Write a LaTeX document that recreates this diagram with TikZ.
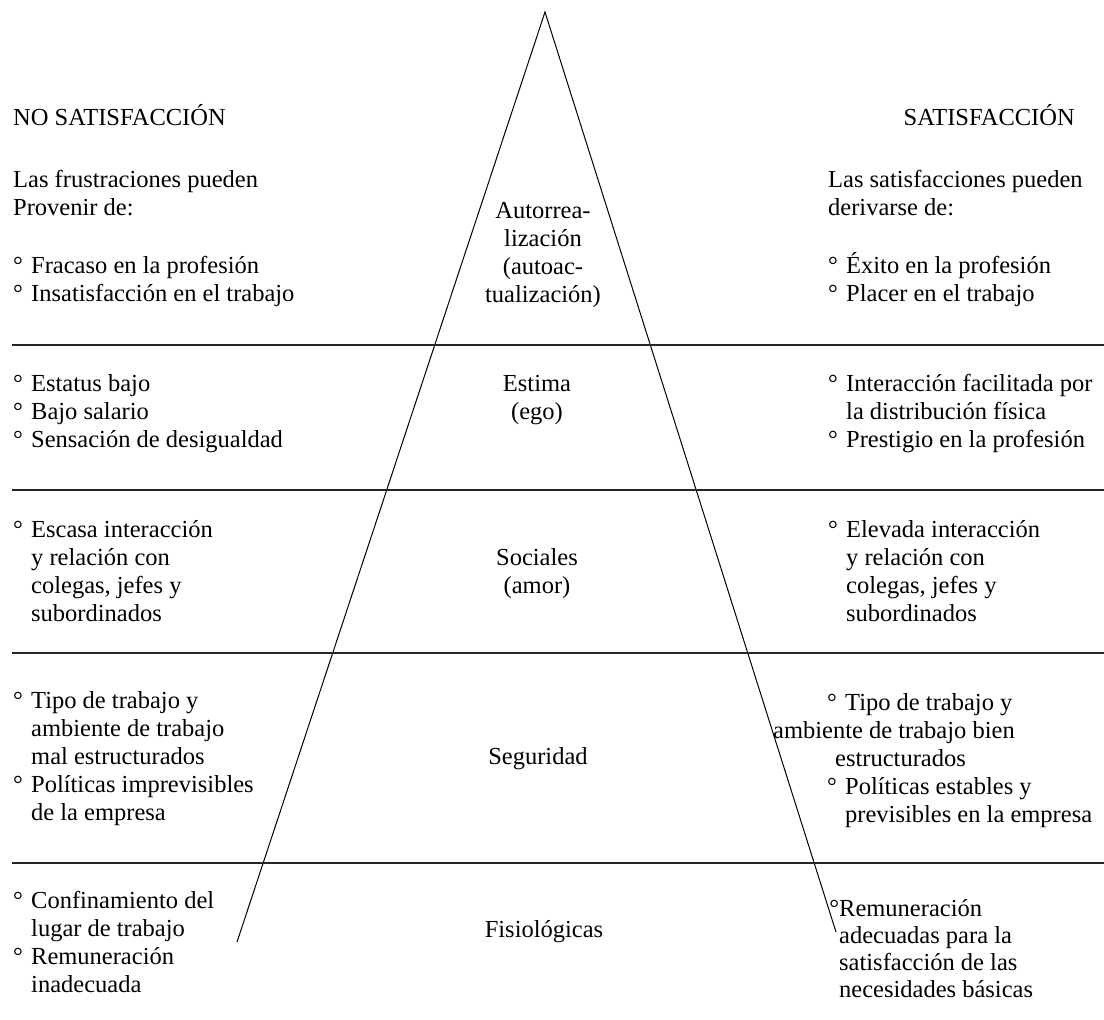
\documentclass[tikz,border=0pt]{standalone}
\usepackage{fontspec}
\setmainfont{Liberation Serif}
\newcommand{\itm}{\makebox[18pt][l]{°}}
\newcommand{\cnt}{\hspace*{18pt}}
\begin{document}
\begin{tikzpicture}[x=1pt,y=-1pt,
  txt/.style={anchor=base west,align=left,inner sep=0pt,font=\fontsize{24.5}{28}\selectfont},
  lvl/.style={anchor=base,align=center,inner sep=0pt,font=\fontsize{24.5}{28}\selectfont},
  sep/.style={black!85,line width=1.1pt},
  side/.style={black,line width=1pt}]
\useasboundingbox (0,0) rectangle (1104,1020);
% pyramid and level lines
\coordinate (apex) at (545,12);
\coordinate (lft) at (237,942);
\coordinate (rgt) at (836,932);
\draw[side] (lft) -- (apex) -- (rgt);
\foreach \y in {345,490,653,863} \draw[sep] (12,\y) -- (1104,\y);
% headings (multi-line nodes sit on the baseline of their last line)
\node[txt] (noSat) at (13,125) {NO SATISFACCIÓN};
\node[txt,anchor=base east] (sat) at (1075,125) {SATISFACCIÓN};
% left column
\node[txt] (fruL) at (13,215) {Las frustraciones pueden\\Provenir de:};
\node[txt] (autoL) at (13,301) {\itm Fracaso en la profesión\\\itm Insatisfacción en el trabajo};
\node[txt] (estL) at (13,447) {\itm Estatus bajo\\\itm Bajo salario\\\itm Sensación de desigualdad};
\node[txt] (socL) at (13,621) {\itm Escasa interacción\\\cnt y relación con\\\cnt colegas, jefes y\\\cnt subordinados};
\node[txt] (segL) at (13,820) {\itm Tipo de trabajo y\\\cnt ambiente de trabajo\\\cnt mal estructurados\\\itm Políticas imprevisibles\\\cnt de la empresa};
\node[txt] (fisL) at (13,992) {\itm Confinamiento del\\\cnt lugar de trabajo\\\itm Remuneración\\\cnt inadecuada};
% centre levels
\node[lvl] (autoC) at (543,302) {Autorrea-\\lización\\(autoac-\\tualización)};
\node[lvl] (estC) at (537,419) {Estima\\(ego)};
\node[lvl] (socC) at (537,593) {Sociales\\(amor)};
\node[lvl] (segC) at (538,764) {Seguridad};
\node[lvl] (fisC) at (544,937) {Fisiológicas};
% right column
\node[txt] (satR) at (828,215) {Las satisfacciones pueden\\derivarse de:};
\node[txt] (autoR) at (828,301) {\itm Éxito en la profesión\\\itm Placer en el trabajo};
\node[txt] (estR) at (828,447) {\itm Interacción facilitada por\\\cnt la distribución física\\\itm Prestigio en la profesión};
\node[txt] (socR) at (828,621) {\itm Elevada interacción\\\cnt y relación con\\\cnt colegas, jefes y\\\cnt subordinados};
\node[txt] (segR) at (773,822) {\hspace*{54pt}\itm Tipo de trabajo y\\ambiente de trabajo bien\\\hspace*{62pt}estructurados\\\hspace*{54pt}\itm Políticas estables y\\\hspace*{72pt}previsibles en la empresa};
\node[txt,font=\fontsize{24.5}{26.7}\selectfont] (fisR) at (839,997) {\llap{°}Remuneración\\adecuadas para la\\satisfacción de las\\necesidades básicas};
\end{tikzpicture}
\end{document}
